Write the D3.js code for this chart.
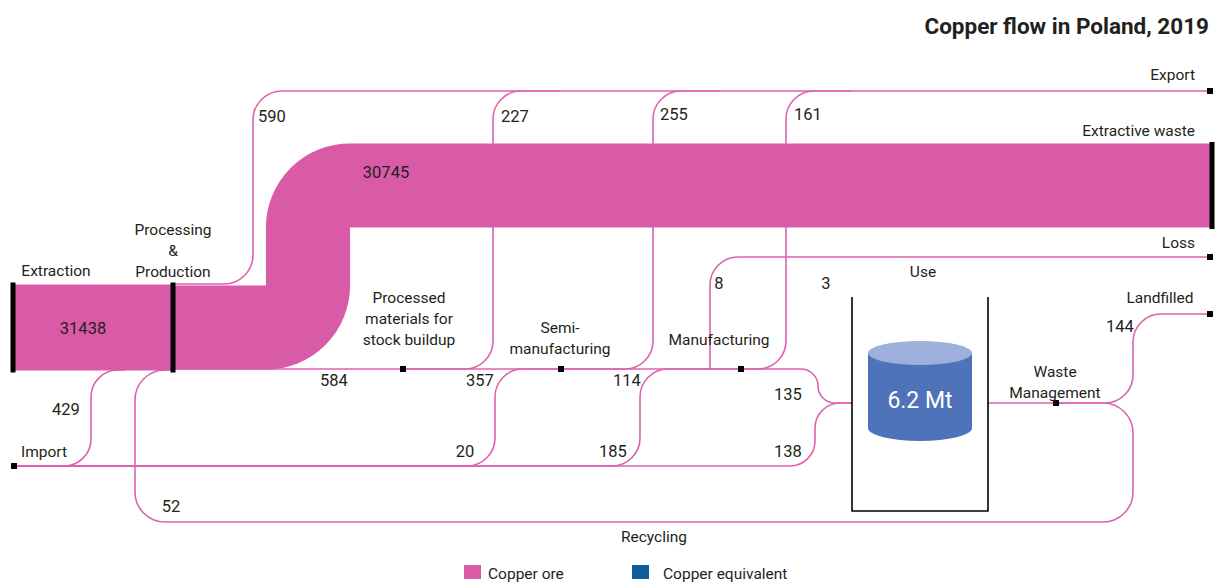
<!DOCTYPE html>
<html>
<head>
<meta charset="utf-8">
<script src="https://cdn.jsdelivr.net/npm/d3@7"></script>
<style>
  body { margin: 0; background: #fff; }
  svg text { font-family: Roboto, "Liberation Sans", sans-serif; fill: #231f20; }
</style>
</head>
<body>
<div id="chart"></div>
<script>
// ---- data (thousand tonnes of copper) ----
const title = "Copper flow in Poland, 2019";

const nodeIds = ["extraction", "processing", "stock", "semi", "manuf", "use", "waste",
                 "export", "extractive", "loss", "landfill", "import"];
const nodeLabels = [["Extraction"], ["Processing", "&", "Production"],
                    ["Processed", "materials for", "stock buildup"], ["Semi-", "manufacturing"],
                    ["Manufacturing"], ["Use"], ["Waste", "Management"],
                    ["Export"], ["Extractive waste"], ["Loss"], ["Landfilled"], ["Import"]];

// source, target, value, printed label
const flowSource = ["extraction", "processing", "processing", "processing", "stock", "stock",
                    "semi", "semi", "manuf", "manuf", "use", "manuf", "import", "import",
                    "import", "import", "use", "waste", "waste"];
const flowTarget = ["processing", "extractive", "export", "stock", "export", "semi",
                    "export", "manuf", "export", "loss", "loss", "use", "processing", "semi",
                    "manuf", "use", "waste", "landfill", "processing"];
const flowValue = [31438, 30745, 590, 584, 227, 357, 255, 114, 161, 8, 3, 135, 429, 20,
                   185, 138, 196, 144, 52];
const flowShown = [true, true, true, true, true, true, true, true, true, true, true, true,
                   true, true, true, true, false, true, true];

const stockText = "6.2 Mt";
const recyclingLabel = "Recycling";
const legendNames = ["Copper ore", "Copper equivalent"];
const legendColors = ["#d95ba8", "#0d5c9b"];

// ---- layout ----
const width = 1215, height = 583;
const pink = "#d95ba8", linePink = "#dd62af";

const X = { start: 13, proc: 173, stock: 403, semi: 561, manuf: 741, useL: 852, useR: 988,
            waste: 1056, end: 1210 };
const Y = { export: 91, band: 185.5, loss: 257, top: 284, core: 327.5, main: 369,
            landfill: 314, use: 403, import: 466, recycle: 522 };

const thick = d3.scaleLinear().domain([0, d3.max(flowValue)]).range([0, 86]);

// waypoints of each flow (corners get rounded), plus where its number goes
const routes = {
  "extraction>processing": { pts: [[X.start, Y.core], [X.proc, Y.core]], label: [83, 334] },
  "processing>extractive": { pts: [[X.proc, Y.core], [308, Y.core], [308, Y.band], [X.end + 2, Y.band]], label: [386, 178] },
  "processing>export": { pts: [[X.proc, Y.top], [253, Y.top], [253, Y.export], [X.end, Y.export]], r: 29, label: [272, 122] },
  "processing>stock": { pts: [[X.proc, Y.main], [X.stock, Y.main]], label: [334, 386] },
  "stock>export": { pts: [[X.stock, Y.main], [493, Y.main], [493, Y.export], [560, Y.export]], label: [515, 122] },
  "stock>semi": { pts: [[X.stock, Y.main], [X.semi, Y.main]], label: [480, 386] },
  "semi>export": { pts: [[X.semi, Y.main], [653, Y.main], [653, Y.export], [720, Y.export]], label: [674, 120] },
  "semi>manuf": { pts: [[X.semi, Y.main], [X.manuf, Y.main]], label: [627, 386] },
  "manuf>export": { pts: [[X.manuf, Y.main], [786, Y.main], [786, Y.export], [850, Y.export]], label: [808, 120] },
  "manuf>loss": { pts: [[710, Y.main], [710, Y.loss], [X.end, Y.loss]], label: [719, 289] },
  "use>loss": { pts: null, label: [826, 289] },
  "manuf>use": { pts: [[X.manuf, Y.main], [818, Y.main], [818, Y.use], [X.useL, Y.use]], r: 17, label: [788, 400] },
  "import>processing": { pts: [[X.start, Y.import], [91, Y.import], [91, 370], [125, 370]], r: 27, label: [66, 415] },
  "import>semi": { pts: [[X.start, Y.import], [495, Y.import], [495, Y.main], [X.semi, Y.main]], label: [465, 457] },
  "import>manuf": { pts: [[X.start, Y.import], [640, Y.import], [640, Y.main], [X.manuf, Y.main]], label: [613, 457] },
  "import>use": { pts: [[X.start, Y.import], [815, Y.import], [815, Y.use], [X.useL, Y.use]], r: 25, label: [788, 457] },
  "use>waste": { pts: [[X.useR, Y.use], [X.waste, Y.use]], label: null },
  "waste>landfill": { pts: [[X.waste, Y.use], [1133, Y.use], [1133, Y.landfill], [X.end, Y.landfill]], label: [1120, 332] },
  "waste>processing": { pts: [[X.waste, Y.use], [1133, Y.use], [1133, Y.recycle], [135, Y.recycle], [135, 370], [175, 370]], r: 30, label: [171, 512] }
};

const nodeLabelPos = {
  extraction: [56, 276, "middle"], processing: [173, 235, "middle"], stock: [409, 303, "middle"],
  semi: [560, 333, "middle"], manuf: [719, 345, "middle"], use: [923, 277, "middle"],
  waste: [1055, 377, "middle"], export: [1195, 80, "end"], extractive: [1195, 136, "end"],
  loss: [1195, 248, "end"], landfill: [1160, 303, "middle"], import: [21, 457, "start"]
};

const markers = [[X.stock, Y.main], [X.semi, Y.main], [X.manuf, Y.main], [X.waste, Y.use],
                 [X.end, Y.export], [X.end, Y.loss], [X.end, Y.landfill], [X.start + 1, Y.import]];

function routePath(pts, r) {
  const p = d3.path();
  p.moveTo(pts[0][0], pts[0][1]);
  for (let i = 1; i < pts.length - 1; i++) {
    p.arcTo(pts[i][0], pts[i][1], pts[i + 1][0], pts[i + 1][1], r);
  }
  const last = pts[pts.length - 1];
  p.lineTo(last[0], last[1]);
  return p.toString();
}

const flows = flowValue.map((v, i) => {
  const key = flowSource[i] + ">" + flowTarget[i];
  return { key, value: v, shown: flowShown[i], w: thick(v), route: routes[key] };
});

const svg = d3.select("#chart").append("svg")
  .attr("width", width).attr("height", height);

// thin flows first so they pass behind the big band
const thin = flows.filter(f => f.w < 10 && f.route.pts);
const wide = flows.filter(f => f.w >= 10);

svg.append("g").selectAll("path")
  .data(thin)
  .enter().append("path")
  .attr("d", d => routePath(d.route.pts, d.route.r || 28))
  .attr("fill", "none")
  .attr("stroke", linePink)
  .attr("stroke-width", d => Math.max(1.6, d.w));

svg.append("g").selectAll("path")
  .data(wide)
  .enter().append("path")
  .attr("d", d => routePath(d.route.pts, d.w / 2))
  .attr("fill", "none")
  .attr("stroke", pink)
  .attr("stroke-width", d => d.w);

// black bars at the ends of the wide band
const bars = [[X.start, Y.core, thick(flowValue[0]) + 4], [X.proc, Y.core, thick(flowValue[0]) + 4],
              [X.end + 2, Y.band, thick(flowValue[1]) + 3]];
svg.append("g").selectAll("rect")
  .data(bars)
  .enter().append("rect")
  .attr("x", d => d[0] - 2.5).attr("y", d => d[1] - d[2] / 2)
  .attr("width", 5).attr("height", d => d[2])
  .attr("fill", "#000");

svg.append("g").selectAll("rect")
  .data(markers)
  .enter().append("rect")
  .attr("x", d => d[0] - 3).attr("y", d => d[1] - 3)
  .attr("width", 6).attr("height", 6)
  .attr("fill", "#000");

// Use: stock container with a cylinder
svg.append("path")
  .attr("d", `M${X.useL},297V511H${X.useR}V297`)
  .attr("fill", "none").attr("stroke", "#000").attr("stroke-width", 1.6);

const cyl = { cx: 920, top: 353, bottom: 428, rx: 52, ry: 12 };
svg.append("path")
  .attr("d", `M${cyl.cx - cyl.rx},${cyl.top}V${cyl.bottom}` +
             `A${cyl.rx},${cyl.ry + 1} 0 0 0 ${cyl.cx + cyl.rx},${cyl.bottom}V${cyl.top}Z`)
  .attr("fill", "#4e73b8");
svg.append("ellipse")
  .attr("cx", cyl.cx).attr("cy", cyl.top).attr("rx", cyl.rx).attr("ry", cyl.ry)
  .attr("fill", "#9cb0db");
svg.append("text")
  .attr("x", cyl.cx).attr("y", 408).attr("text-anchor", "middle")
  .style("font-size", "23px").style("fill", "#fff")
  .text(stockText);

// node names
nodeIds.forEach((id, i) => {
  const [x, y, anchor] = nodeLabelPos[id];
  const t = svg.append("text").attr("text-anchor", anchor).style("font-size", "15.5px");
  nodeLabels[i].forEach((line, j) => {
    t.append("tspan").attr("x", x).attr("y", y + j * 21).text(line);
  });
});

svg.append("text")
  .attr("x", 654).attr("y", 542).attr("text-anchor", "middle")
  .style("font-size", "15.5px")
  .text(recyclingLabel);

// flow values
svg.append("g").selectAll("text")
  .data(flows.filter(f => f.shown && f.route.label))
  .enter().append("text")
  .attr("x", d => d.route.label[0]).attr("y", d => d.route.label[1])
  .attr("text-anchor", "middle")
  .style("font-size", "16.5px")
  .text(d => d.value);

// title
svg.append("text")
  .attr("x", 1209).attr("y", 34).attr("text-anchor", "end")
  .style("font-size", "22.5px").style("font-weight", "bold")
  .text(title);

// legend
const legend = svg.append("g").selectAll("g")
  .data(legendNames)
  .enter().append("g")
  .attr("transform", (d, i) => `translate(${[464, 632][i]},565)`);
legend.append("rect").attr("width", 17).attr("height", 14)
  .attr("fill", (d, i) => legendColors[i]);
legend.append("text").attr("x", (d, i) => [24, 31][i]).attr("y", 14)
  .style("font-size", "15.5px").text(d => d);
</script>
</body>
</html>
